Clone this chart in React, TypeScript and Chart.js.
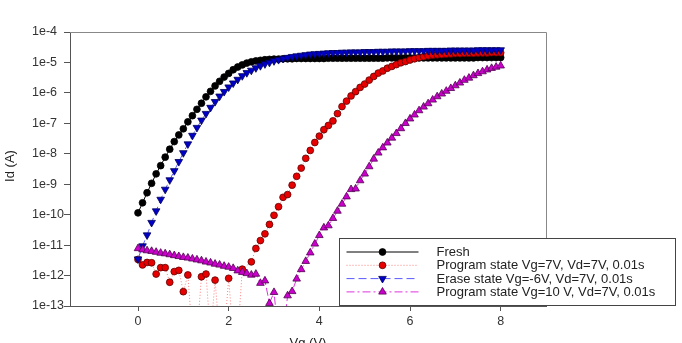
import React, { useEffect, useRef } from "react";
import { Chart, registerables } from "chart.js";

Chart.register(...registerables);

// Gate voltage (V)
const vg = [
  0, 0.1, 0.2, 0.3, 0.4, 0.5, 0.6, 0.7, 0.8, 0.9,
  1, 1.1, 1.2, 1.3, 1.4, 1.5, 1.6, 1.7, 1.8, 1.9,
  2, 2.1, 2.2, 2.3, 2.4, 2.5, 2.6, 2.7, 2.8, 2.9,
  3, 3.1, 3.2, 3.3, 3.4, 3.5, 3.6, 3.7, 3.8, 3.9,
  4, 4.1, 4.2, 4.3, 4.4, 4.5, 4.6, 4.7, 4.8, 4.9,
  5, 5.1, 5.2, 5.3, 5.4, 5.5, 5.6, 5.7, 5.8, 5.9,
  6, 6.1, 6.2, 6.3, 6.4, 6.5, 6.6, 6.7, 6.8, 6.9,
  7, 7.1, 7.2, 7.3, 7.4, 7.5, 7.6, 7.7, 7.8, 7.9,
  8,
];

// Drain current, as log10(Id [A]); -14 = off-scale (below 1e-13), null = no point
const freshLog = [
  -9.94, -9.61, -9.28, -8.97, -8.66, -8.39, -8.11, -7.85, -7.6, -7.38,
  -7.18, -6.95, -6.75, -6.54, -6.34, -6.13, -5.95, -5.77, -5.62, -5.48,
  -5.36, -5.24, -5.15, -5.08, -5.02, -4.98, -4.95, -4.93, -4.91, -4.9,
  -4.89, -4.89, -4.88, -4.88, -4.88, -4.87, -4.87, -4.87, -4.87, -4.87,
  -4.87, -4.87, -4.86, -4.86, -4.86, -4.86, -4.86, -4.86, -4.86, -4.86,
  -4.86, -4.86, -4.86, -4.86, -4.86, -4.85, -4.85, -4.85, -4.85, -4.85,
  -4.85, -4.85, -4.85, -4.85, -4.85, -4.85, -4.85, -4.85, -4.85, -4.85,
  -4.85, -4.85, -4.85, -4.85, -4.85, -4.84, -4.84, -4.84, -4.84, -4.84,
  -4.84,
];

const program7Log = [
  -11.47, -11.65, -11.57, -11.58, -11.95, -11.74, -11.74, -12.22, -11.87, -11.83,
  -12.53, -11.98, -14, -14, -12.04, -11.95, -14, -12.15, -14, -14,
  -12.09, -14, -14, -11.79, null, -11.55, -11.11, -10.85, -10.63, -10.32,
  -10.02, -9.74, -9.43, -9.34, -9.03, -8.74, -8.47, -8.15, -7.89, -7.63,
  -7.42, -7.21, -7.07, -6.92, -6.68, -6.45, -6.27, -6.1, -5.96, -5.82,
  -5.71, -5.58, -5.46, -5.35, -5.28, -5.19, -5.13, -5.07, -5.01, -4.97,
  -4.92, -4.88, -4.84, -4.81, -4.78, -4.76, -4.75, -4.74, -4.73, -4.72,
  -4.71, -4.71, -4.7, -4.7, -4.7, -4.69, -4.69, -4.69, -4.68, -4.68,
  -4.68,
];

const eraseLog = [
  -11.46, -11.03, -10.67, -10.26, -9.88, -9.5, -9.17, -8.86, -8.56, -8.26,
  -7.97, -7.68, -7.4, -7.14, -6.9, -6.68, -6.48, -6.29, -6.11, -5.96,
  -5.81, -5.68, -5.56, -5.44, -5.34, -5.26, -5.18, -5.11, -5.05, -5.0,
  -4.95, -4.91, -4.87, -4.84, -4.81, -4.79, -4.77, -4.75, -4.73, -4.72,
  -4.71, -4.7, -4.69, -4.68, -4.68, -4.67, -4.67, -4.66, -4.66, -4.66,
  -4.65, -4.65, -4.65, -4.64, -4.64, -4.64, -4.63, -4.63, -4.63, -4.63,
  -4.62, -4.62, -4.62, -4.62, -4.61, -4.61, -4.61, -4.61, -4.61, -4.6,
  -4.6, -4.6, -4.6, -4.6, -4.6, -4.59, -4.59, -4.59, -4.59, -4.59,
  -4.59,
];

const program10Log = [
  -11.11, -11.15, -11.18, -11.2, -11.23, -11.26, -11.28, -11.31, -11.34, -11.37,
  -11.4, -11.42, -11.45, -11.48, -11.51, -11.55, -11.58, -11.62, -11.65, -11.69,
  -11.72, -11.76, -11.84, -11.89, -11.93, -11.98, -11.95, -12.25, -12.17, -12.91,
  -12.55, -14, -14, -12.66, -12.52, -12.11, -11.8, -11.53, -11.25, -10.96,
  -10.68, -10.43, -10.36, -10.12, -9.88, -9.65, -9.41, -9.17, -9.15, -8.88,
  -8.66, -8.42, -8.17, -7.97, -7.8, -7.64, -7.48, -7.33, -7.17, -7.0,
  -6.85, -6.72, -6.58, -6.46, -6.35, -6.23, -6.12, -6.03, -5.94, -5.85,
  -5.76, -5.67, -5.58, -5.51, -5.43, -5.36, -5.3, -5.24, -5.19, -5.15,
  -5.11,
];

const seriesNames = [
  "Fresh",
  "Program state Vg=7V, Vd=7V, 0.01s",
  "Erase state Vg=-6V, Vd=7V, 0.01s",
  "Program state Vg=10 V, Vd=7V, 0.01s",
];

const xTicks = [0, 2, 4, 6, 8];
const yTickValues = [1e-13, 1e-12, 1e-11, 1e-10, 1e-9, 1e-8, 1e-7, 1e-6, 1e-5, 1e-4];
const yTickLabels = ["1e-13", "1e-12", "1e-11", "1e-10", "1e-9", "1e-8", "1e-7", "1e-6", "1e-5", "1e-4"];
const xTitle = "Vg (V)";
const yTitle = "Id (A)";

const FONT = "'Liberation Sans', Arial, sans-serif";

function toPoints(logs: (number | null)[]) {
  return vg.map((x, i) => ({ x, y: logs[i] === null ? null : Math.pow(10, logs[i] as number) }));
}

function drawMarker(ctx: CanvasRenderingContext2D, kind: string, x: number, y: number, fill: string, stroke: string) {
  ctx.save();
  ctx.fillStyle = fill;
  ctx.strokeStyle = stroke;
  ctx.lineWidth = 0.8;
  ctx.setLineDash([]);
  ctx.beginPath();
  if (kind === "circle") {
    ctx.arc(x, y, 3.4, 0, Math.PI * 2);
  } else {
    const r = 4.4;
    const dir = kind === "down" ? -1 : 1;
    for (let k = 0; k < 3; k++) {
      const a = (k * 2 * Math.PI) / 3;
      const px = x + Math.sin(a) * r;
      const py = y - dir * Math.cos(a) * r;
      if (k === 0) ctx.moveTo(px, py);
      else ctx.lineTo(px, py);
    }
    ctx.closePath();
  }
  ctx.fill();
  ctx.stroke();
  ctx.restore();
}

const styles = [
  { line: "#000000", dash: [] as number[], fill: "#000000", stroke: "#000000", marker: "circle" },
  { line: "#ff7f7f", dash: [1, 2], fill: "#e80000", stroke: "#5a0000", marker: "circle" },
  { line: "#5a5aff", dash: [8, 4], fill: "#0000c8", stroke: "#00005a", marker: "down" },
  { line: "#dd33dd", dash: [8, 3, 2, 3], fill: "#cc00cc", stroke: "#500050", marker: "up" },
];

const decorPlugin = {
  id: "decor",
  afterDraw(chart: any) {
    const ctx: CanvasRenderingContext2D = chart.ctx;
    const { left, right, top, bottom } = chart.chartArea;
    ctx.save();
    // top and right frame
    ctx.strokeStyle = "#888888";
    ctx.lineWidth = 1;
    ctx.setLineDash([]);
    ctx.beginPath();
    ctx.moveTo(left, top + 0.5);
    ctx.lineTo(right + 0.5, top + 0.5);
    ctx.lineTo(right + 0.5, bottom);
    ctx.stroke();

    // axis titles
    ctx.fillStyle = "#222222";
    ctx.font = `13px ${FONT}`;
    ctx.textAlign = "center";
    ctx.textBaseline = "top";
    ctx.fillText(xTitle, (left + right) / 2, bottom + 31);
    ctx.save();
    ctx.translate(10, (top + bottom) / 2 - 3);
    ctx.rotate(-Math.PI / 2);
    ctx.textBaseline = "middle";
    ctx.fillText(yTitle, 0, 0);
    ctx.restore();

    // legend box
    const bx = left + 269.5;
    const by = top + 206.5;
    const bw = 336;
    const bh = 67;
    ctx.fillStyle = "#ffffff";
    ctx.fillRect(bx, by, bw, bh);
    ctx.strokeStyle = "#444444";
    ctx.strokeRect(bx, by, bw, bh);
    ctx.font = `13px ${FONT}`;
    ctx.textAlign = "left";
    ctx.textBaseline = "middle";
    seriesNames.forEach((name, i) => {
      const s = styles[i];
      const y = by + 13.5 + i * 13.3;
      ctx.strokeStyle = s.line;
      ctx.lineWidth = 1;
      ctx.setLineDash(s.dash);
      ctx.beginPath();
      ctx.moveTo(bx + 7, y);
      ctx.lineTo(bx + 79, y);
      ctx.stroke();
      ctx.setLineDash([]);
      drawMarker(ctx, s.marker, bx + 43, y, s.fill, s.stroke);
      ctx.fillStyle = "#222222";
      ctx.fillText(name, bx + 97, y + 0.5);
    });
    ctx.restore();
  },
};

export default function App() {
  const ref = useRef<HTMLCanvasElement>(null);

  useEffect(() => {
    document.body.style.margin = "0";
    const canvas = ref.current!;
    const logs = [freshLog, program7Log, eraseLog, program10Log];
    const orders = [3, 2, 1, 0];
    const datasets = logs.map((l, i) => {
      const s = styles[i];
      return {
        label: seriesNames[i],
        data: toPoints(l),
        borderColor: s.line,
        borderWidth: 1,
        borderDash: s.dash,
        backgroundColor: s.fill,
        pointBackgroundColor: s.fill,
        pointBorderColor: s.stroke,
        pointBorderWidth: 0.8,
        pointRadius: s.marker === "circle" ? 3.4 : 4.4,
        pointStyle: s.marker === "circle" ? "circle" : "triangle",
        pointRotation: s.marker === "down" ? 180 : 0,
        tension: 0,
        spanGaps: true,
        fill: false,
        order: orders[i],
      };
    });

    const chart = new Chart(canvas, {
      type: "line",
      data: { datasets: datasets as any },
      options: {
        responsive: false,
        animation: false,
        devicePixelRatio: 1,
        layout: { padding: { left: 32, top: 32, right: 136, bottom: 0 } },
        plugins: { legend: { display: false }, tooltip: { enabled: false } },
        scales: {
          x: {
            type: "linear",
            min: -1.5,
            max: 9,
            afterBuildTicks: (s: any) => {
              s.ticks = xTicks.map((v) => ({ value: v }));
            },
            afterFit: (s: any) => {
              s.height = 37;
            },
            grid: { drawOnChartArea: false, drawTicks: true, tickLength: 5, color: "#555555" },
            border: { display: true, color: "#555555", width: 1 },
            ticks: {
              font: { family: FONT, size: 12.5 },
              color: "#333333",
              padding: 3,
              maxRotation: 0,
              autoSkip: false,
            },
          },
          y: {
            type: "logarithmic",
            min: 1e-13,
            max: 1e-4,
            afterBuildTicks: (s: any) => {
              s.ticks = yTickValues.map((v) => ({ value: v }));
            },
            afterFit: (s: any) => {
              s.width = 38;
            },
            grid: { drawOnChartArea: false, drawTicks: true, tickLength: 6, color: "#555555" },
            border: { display: true, color: "#555555", width: 1 },
            ticks: {
              callback: (_v: any, i: number) => yTickLabels[i],
              crossAlign: "far",
              font: { family: FONT, size: 12.5 },
              color: "#333333",
              padding: 6,
              autoSkip: false,
            },
          },
        },
      },
      plugins: [decorPlugin],
    });
    return () => chart.destroy();
  }, []);

  return (
    <div style={{ width: 682, height: 343 }}>
      <canvas ref={ref} width={682} height={343} style={{ display: "block" }} />
    </div>
  );
}
